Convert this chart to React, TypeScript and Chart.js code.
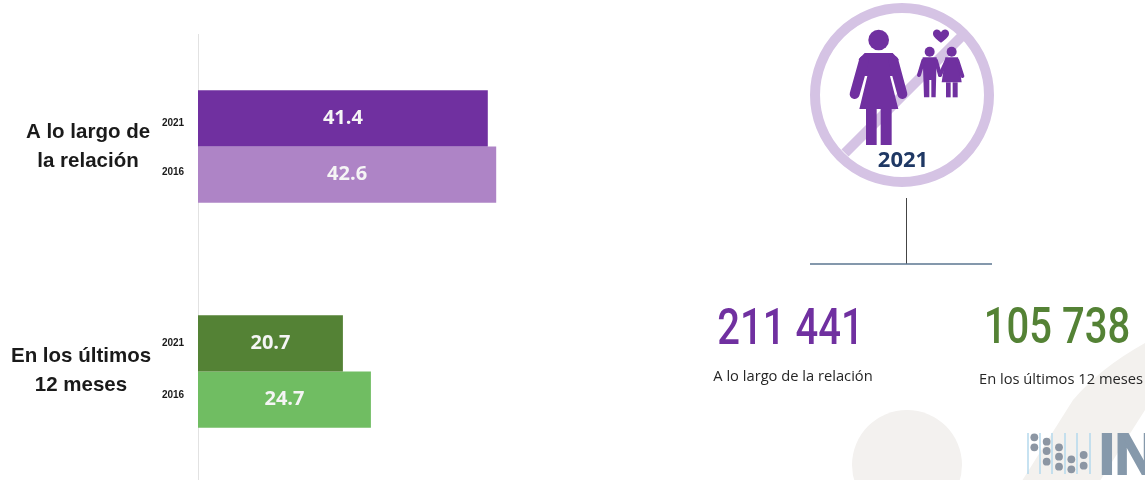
import React, { useEffect, useRef } from "react";
import { Chart, registerables } from "chart.js";

Chart.register(...registerables);

const categories = [["A lo largo de", "la relación"], ["En los últimos", "12 meses"]];
const years = ["2021", "2016"];
const values2021 = [41.4, 20.7];
const values2016 = [42.6, 24.7];
const colors2021 = ["#7030A0", "#548235"];
const colors2016 = ["#AE84C6", "#70BD62"];
const totals = ["211 441", "105 738"];
const totalLabels = ["A lo largo de la relación", "En los últimos 12 meses"];
const iconYear = "2021";
const logoText = "IN";

type Ctx = CanvasRenderingContext2D;
const ix = (x: number) => 840 + x / 3;
const iy = (y: number) => 20 + y / 3;

function poly(c: Ctx, pts: number[][]) {
  c.beginPath();
  pts.forEach(([x, y], i) => (i === 0 ? c.moveTo(ix(x), iy(y)) : c.lineTo(ix(x), iy(y))));
  c.closePath();
  c.fill();
}
function disc(c: Ctx, x: number, y: number, r: number) {
  c.beginPath();
  c.arc(ix(x), iy(y), r / 3, 0, Math.PI * 2);
  c.fill();
}
function limb(c: Ctx, x1: number, y1: number, x2: number, y2: number, w: number) {
  c.lineWidth = w / 3;
  c.lineCap = "round";
  c.beginPath();
  c.moveTo(ix(x1), iy(y1));
  c.lineTo(ix(x2), iy(y2));
  c.stroke();
}

function drawFigures(c: Ctx) {
  c.fillStyle = "#7030A0";
  c.strokeStyle = "#7030A0";
  // woman
  disc(c, 116, 60, 31);
  poly(c, [[74, 99], [158, 99], [176, 118], [158, 168], [150, 168], [175, 267], [58, 267], [82, 168], [74, 168], [56, 118]]);
  limb(c, 72, 122, 44, 222, 30);
  limb(c, 160, 122, 187, 222, 30);
  poly(c, [[78, 267], [110, 267], [110, 375], [78, 375]]);
  poly(c, [[122, 267], [155, 267], [155, 375], [122, 375]]);
  // boy
  disc(c, 269, 95, 15);
  poly(c, [[248, 112], [290, 112], [287, 232], [274, 232], [274, 180], [268, 180], [268, 232], [252, 232]]);
  limb(c, 250, 122, 237, 165, 12);
  limb(c, 288, 122, 300, 165, 12);
  // girl
  disc(c, 335, 95, 15);
  poly(c, [[316, 112], [354, 112], [365, 187], [305, 187]]);
  poly(c, [[318, 187], [332, 187], [332, 232], [318, 232]]);
  poly(c, [[338, 187], [353, 187], [353, 232], [338, 232]]);
  limb(c, 320, 122, 300, 165, 12);
  limb(c, 352, 122, 367, 168, 12);
  // heart
  c.beginPath();
  c.moveTo(ix(303), iy(68));
  c.bezierCurveTo(ix(285), iy(55), ix(278), iy(48), ix(279), iy(39));
  c.bezierCurveTo(ix(280), iy(26), ix(298), iy(24), ix(303), iy(37));
  c.bezierCurveTo(ix(308), iy(24), ix(326), iy(26), ix(327), iy(39));
  c.bezierCurveTo(ix(328), iy(48), ix(321), iy(55), ix(303), iy(68));
  c.fill();
}

const decorations = {
  id: "decorations",
  beforeDraw(chart: any) {
    const c = chart.ctx as Ctx;
    c.save();
    c.fillStyle = "#F3F1EF";
    c.beginPath();
    c.arc(907, 465, 55, 0, Math.PI * 2);
    c.fill();
    c.fillStyle = "#F3F1EE";
    c.beginPath();
    c.moveTo(1145, 343);
    c.quadraticCurveTo(1100, 368, 1073, 400);
    c.lineTo(1020, 484);
    c.lineTo(1098, 484);
    c.lineTo(1145, 410);
    c.closePath();
    c.fill();
    c.restore();
  },
  afterDraw(chart: any) {
    const c = chart.ctx as Ctx;
    const y = chart.scales.y;
    const meta = [chart.getDatasetMeta(0), chart.getDatasetMeta(1)];
    c.save();

    c.fillStyle = "#1A1A1A";
    c.font = "bold 20.5px 'Liberation Sans'";
    c.textAlign = "center";
    c.textBaseline = "middle";
    const cx = [88, 81];
    const lineShift = [[-14, 15], [-15, 14]];
    categories.forEach((lines, i) => {
      const py = y.getPixelForValue(i);
      lines.forEach((t, j) => c.fillText(t, cx[i], py + lineShift[i][j]));
    });

    const yearShift = [[5, -2], [0, -4]];
    meta.forEach((m, d) => {
      m.data.forEach((bar: any, i: number) => {
        c.fillStyle = "#1A1A1A";
        c.font = "bold 10px 'Liberation Sans'";
        c.textAlign = "center";
        c.fillText(years[d], 173, bar.y + yearShift[i][d]);
        c.fillStyle = "#F5F5F5";
        c.font = "bold 20px 'Open Sans'";
        const v = d === 0 ? values2021[i] : values2016[i];
        c.fillText(v.toFixed(1), (bar.x + bar.base) / 2, bar.y);
      });
    });

    // prohibition icon
    c.strokeStyle = "#D5C3E4";
    c.lineWidth = 10;
    c.beginPath();
    c.arc(902, 95, 87, 0, Math.PI * 2);
    c.stroke();
    c.lineCap = "butt";
    c.beginPath();
    c.moveTo(845, 153);
    c.lineTo(962, 36);
    c.stroke();
    drawFigures(c);
    c.fillStyle = "#1F3864";
    c.font = "bold 22px 'Open Sans'";
    c.textAlign = "center";
    c.fillText(iconYear, 903, 161);

    // connector
    c.lineCap = "butt";
    c.strokeStyle = "#444444";
    c.lineWidth = 1;
    c.beginPath();
    c.moveTo(906.5, 198);
    c.lineTo(906.5, 264);
    c.stroke();
    c.strokeStyle = "#5B7690";
    c.lineWidth = 1.5;
    c.beginPath();
    c.moveTo(810, 264);
    c.lineTo(992, 264);
    c.stroke();

    // totals
    const drawTotal = (text: string, x: number, py: number, color: string) => {
      c.save();
      c.translate(x, py);
      c.scale(0.8, 1);
      c.fillStyle = color;
      c.font = "500 50px Roboto";
      c.textAlign = "center";
      c.fillText(text, 0, 0);
      c.restore();
    };
    drawTotal(totals[0], 790.5, 331, colors2021[0]);
    drawTotal(totals[1], 1057, 330, colors2021[1]);
    c.fillStyle = "#262626";
    c.font = "14.7px 'Open Sans'";
    c.fillText(totalLabels[0], 793, 377);
    c.fillText(totalLabels[1], 1061, 380);

    // logo
    c.strokeStyle = "#B5D8EC";
    c.lineWidth = 1.5;
    [1028, 1040, 1052, 1065, 1077, 1090].forEach((x) => {
      c.beginPath();
      c.moveTo(x, 433);
      c.lineTo(x, 474);
      c.stroke();
    });
    c.fillStyle = "#8C96A3";
    const dots = [[103, 112], [103, 142], [140, 125], [140, 153], [140, 185], [177, 142], [177, 170], [177, 200], [214, 178], [214, 208], [251, 165], [251, 197]];
    dots.forEach(([x, yy]) => {
      c.beginPath();
      c.arc(1000 + x / 3, 400 + yy / 3, 3.9, 0, Math.PI * 2);
      c.fill();
    });
    c.fillStyle = "#8699AB";
    c.strokeStyle = "#8699AB";
    c.lineWidth = 2;
    c.font = "bold 57px 'Liberation Sans'";
    c.textAlign = "left";
    c.textBaseline = "alphabetic";
    c.fillText(logoText, 1099, 474);
    c.strokeText(logoText, 1099, 474);
    c.restore();
  },
};

export default function App() {
  const ref = useRef<HTMLCanvasElement>(null);
  useEffect(() => {
    document.body.style.margin = "0";
    document.documentElement.style.overflow = "hidden";
    const chart = new Chart(ref.current!, {
      type: "bar",
      data: {
        labels: categories,
        datasets: [
          { label: years[0], data: values2021, backgroundColor: colors2021 },
          { label: years[1], data: values2016, backgroundColor: colors2016 },
        ],
      },
      plugins: [decorations],
      options: {
        indexAxis: "y",
        animation: false,
        responsive: false,
        events: [],
        layout: { padding: { top: 34, right: 2, bottom: 0, left: 0 } },
        categoryPercentage: 0.5,
        barPercentage: 1,
        plugins: { legend: { display: false }, tooltip: { enabled: false } },
        scales: {
          x: { min: 0, max: 135, display: false },
          y: {
            position: "left",
            afterFit(s: any) { s.width = 198; },
            ticks: { display: false },
            grid: { display: false, drawTicks: false },
            border: { display: true, color: "#E2E2E2", width: 1 },
          },
        },
      } as any,
    });
    return () => chart.destroy();
  }, []);
  return (
    <div style={{ position: "relative", width: 1145, height: 480, overflow: "hidden" }}>
      <canvas ref={ref} width={1145} height={484} style={{ display: "block" }} />
    </div>
  );
}
